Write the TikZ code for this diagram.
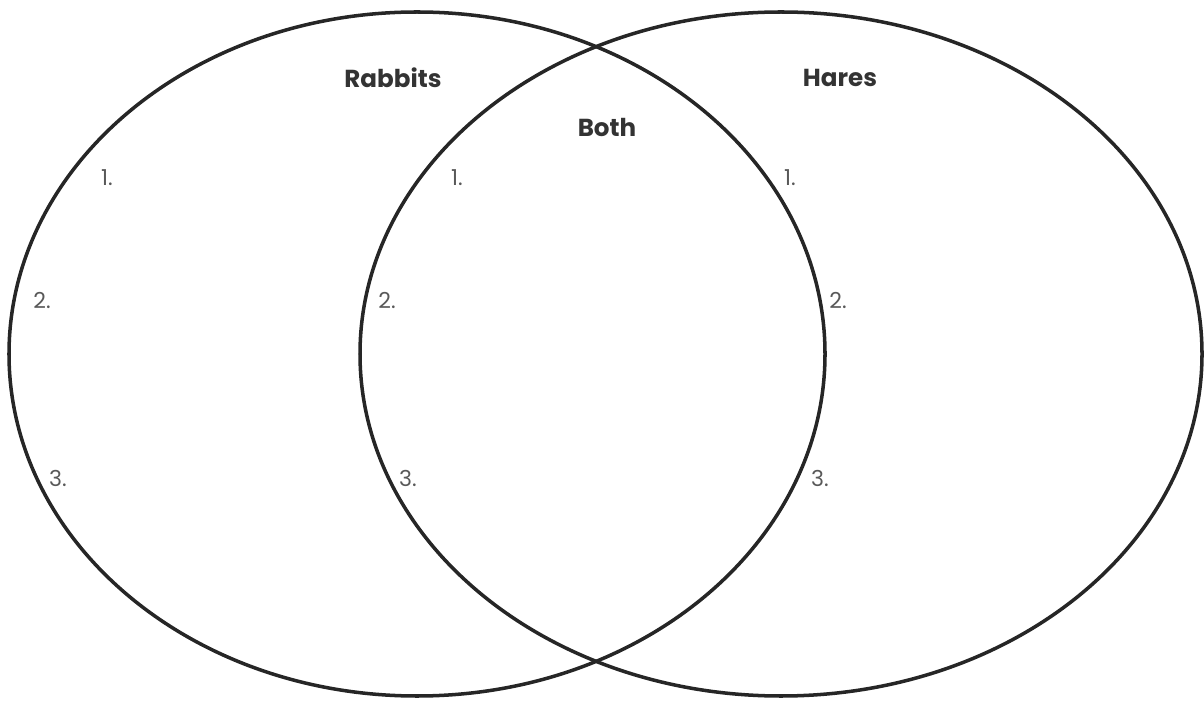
\documentclass[tikz,border=0pt]{standalone}
\usepackage{fontspec}
\setmainfont{Poppins}
\tikzset{
  ring/.style={line width=2pt, draw=black!85},
  setname/.style={font=\bfseries\fontsize{14}{16}\selectfont, text=black!80},
  itemno/.style={font=\fontsize{12.5}{14}\selectfont, text=black!65}
}
\begin{document}
\begin{tikzpicture}
\useasboundingbox (0,0) rectangle (24.08,14);
\draw[ring] (8.34,6.92) ellipse [x radius=8.16cm, y radius=6.84cm];
\draw[ring] (15.62,6.92) ellipse [x radius=8.42cm, y radius=6.84cm];
\node[setname] (rabbits) at (7.86,12.44) {Rabbits};
\node[setname] (both) at (12.14,11.44) {Both};
\node[setname] (hares) at (16.80,12.44) {Hares};
\node[itemno] (r1) at (2.14,10.44) {1.};
\node[itemno] (r2) at (0.84,8.0) {2.};
\node[itemno] (r3) at (1.16,4.44) {3.};
\node[itemno] (b1) at (9.14,10.44) {1.};
\node[itemno] (b2) at (7.74,8.0) {2.};
\node[itemno] (b3) at (8.16,4.44) {3.};
\node[itemno] (h1) at (15.80,10.44) {1.};
\node[itemno] (h2) at (16.76,8.0) {2.};
\node[itemno] (h3) at (16.40,4.44) {3.};
\end{tikzpicture}
\end{document}
